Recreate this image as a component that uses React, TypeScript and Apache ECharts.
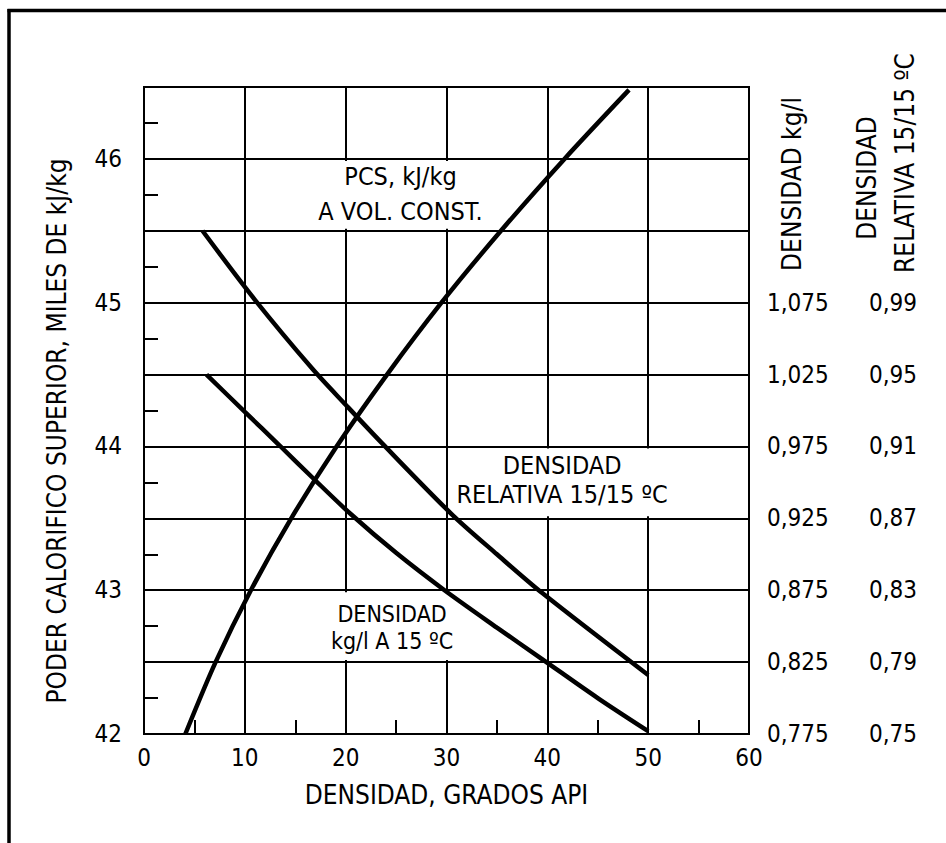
import React, { useEffect, useRef } from 'react';
import * as echarts from 'echarts';

// ---- Data ----
const apiTicks = [0, 10, 20, 30, 40, 50, 60];
const pcsTicks = [42, 43, 44, 45, 46];

// PCS, kJ/kg a vol. const. (x = grados API, y = miles de kJ/kg)
const pcsApi = [4.1, 7.1, 10.6, 14.6, 19.1, 24.1, 29.5, 35.4, 41.7, 48.1];
const pcsValue = [42.0, 42.5, 43.0, 43.5, 44.0, 44.5, 45.0, 45.5, 46.0, 46.48];

// Densidad relativa 15/15 ºC curve
const relApi = [5.8, 11.0, 16.7, 20.0, 23.5, 30.5, 35.0, 39.5, 50.0];
const relValue = [45.5, 45.02, 44.54, 44.29, 44.03, 43.53, 43.25, 42.98, 42.41];

// Densidad kg/l a 15 ºC curve
const kglApi = [6.2, 10.0, 13.4, 16.9, 20.5, 25.0, 29.8, 35.0, 39.3, 45.0, 50.0];
const kglValue = [44.5, 44.24, 44.01, 43.77, 43.53, 43.26, 43.0, 42.74, 42.53, 42.25, 42.02];

// Right-hand scales (positions on the left scale and their labels)
const rightTickValues = [42, 42.5, 43, 43.5, 44, 44.5, 45];
const densityLabels = ['0,775', '0,825', '0,875', '0,925', '0,975', '1,025', '1,075'];
const relativeLabels = ['0,75', '0,79', '0,83', '0,87', '0,91', '0,95', '0,99'];

// ---- Annotation placement (data coords) ----
const annotations = [
  { box: [17, 34, 45.5, 46], text: 'PCS, kJ/kg\nA VOL. CONST.', x: 25.44, y: 45.754, lh: 35, fs: 25 },
  { box: [30.6, 53.5, 43.5, 44], text: 'DENSIDAD\nRELATIVA 15/15 ºC', x: 41.46, y: 43.764, lh: 29, fs: 25 },
  { box: [17.5, 33.0, 42.5, 43], text: 'DENSIDAD\nkg/l A 15 ºC', x: 24.6, y: 42.741, lh: 27, fs: 23 },
];

const FONT = "'DejaVu Sans Condensed', 'DejaVu Sans', sans-serif";

function pick(labels: string[], v: number) {
  const i = rightTickValues.findIndex((t) => Math.abs(t - v) < 1e-6);
  return i >= 0 ? labels[i] : '';
}

export default function App() {
  const ref = useRef<HTMLDivElement>(null);

  useEffect(() => {
    document.body.style.margin = '0';
    const chart = echarts.init(ref.current!, null, { renderer: 'svg' });
    const ls = { color: '#000', width: 2 };
    const labelStyle = { color: '#000', fontSize: 24, fontFamily: FONT };
    const curve = (name: string, xs: number[], ys: number[]) => ({
      type: 'line',
      name,
      data: xs.map((x, i) => [x, ys[i]]),
      symbol: 'none',
      smooth: 0.3,
      z: 5,
      lineStyle: { color: '#000', width: 4.5 },
    });

    chart.setOption({
      animation: false,
      backgroundColor: '#fff',
      grid: {
        left: 144,
        top: 87,
        right: 197,
        bottom: 109,
        show: true,
        borderColor: '#000',
        borderWidth: 2,
      },
      xAxis: {
        type: 'value',
        min: apiTicks[0],
        max: apiTicks[apiTicks.length - 1],
        interval: 10,
        axisLine: { show: true, lineStyle: ls },
        axisTick: { show: true, inside: true, length: 14, lineStyle: ls },
        minorTick: { show: true, splitNumber: 2, length: 14, lineStyle: ls },
        splitLine: { show: true, lineStyle: ls },
        axisLabel: { ...labelStyle, margin: 12 },
        name: 'DENSIDAD, GRADOS API',
        nameLocation: 'middle',
        nameGap: 48,
        nameTextStyle: { ...labelStyle, fontSize: 26 },
      },
      yAxis: [
        {
          type: 'value',
          min: 42,
          max: 46.5,
          interval: 0.5,
          position: 'left',
          axisLine: { show: true, lineStyle: ls },
          axisTick: { show: true, inside: true, length: 14, lineStyle: ls },
          minorTick: { show: true, splitNumber: 2, length: 14, lineStyle: ls },
          splitLine: { show: true, lineStyle: ls },
          axisLabel: {
            ...labelStyle,
            margin: 22,
            formatter: (v: number) =>
              pcsTicks.some((t) => Math.abs(t - v) < 1e-6) ? String(v) : '',
          },
        },
        {
          type: 'value',
          min: 42,
          max: 46.5,
          interval: 0.5,
          position: 'right',
          offset: 0,
          axisLine: { show: false },
          axisTick: { show: false },
          splitLine: { show: false },
          axisLabel: { ...labelStyle, margin: 18, formatter: (v: number) => pick(densityLabels, v) },
        },
        {
          type: 'value',
          min: 42,
          max: 46.5,
          interval: 0.5,
          position: 'right',
          offset: 102,
          axisLine: { show: false },
          axisTick: { show: false },
          splitLine: { show: false },
          axisLabel: { ...labelStyle, margin: 18, formatter: (v: number) => pick(relativeLabels, v) },
        },
      ],
      series: [
        curve('PCS', pcsApi, pcsValue),
        curve('Densidad relativa', relApi, relValue),
        curve('Densidad kg/l', kglApi, kglValue),
      ],
    });

    const px = (p: number[]) => chart.convertToPixel({ gridIndex: 0 }, p) as number[];
    const elements: any[] = [];
    annotations.forEach((a) => {
      const [x0, x1, y0, y1] = a.box;
      const tl = px([x0, y1]);
      const br = px([x1, y0]);
      elements.push({
        type: 'rect',
        z: 1,
        shape: { x: tl[0], y: tl[1] + 2, width: br[0] - tl[0], height: br[1] - tl[1] - 4 },
        style: { fill: '#fff' },
        silent: true,
      });
      const p = px([a.x, a.y]);
      elements.push({
        type: 'text',
        z: 1,
        x: p[0],
        y: p[1],
        style: {
          text: a.text,
          fill: '#000',
          font: `${a.fs}px ${FONT}`,
          lineHeight: a.lh,
          align: 'center',
          verticalAlign: 'middle',
        },
      });
    });

    const rotText = (text: string, x: number, y: number, size = 26) => ({
      type: 'text',
      x,
      y,
      rotation: Math.PI / 2,
      style: {
        text,
        fill: '#000',
        font: `${size}px ${FONT}`,
        align: 'center',
        verticalAlign: 'middle',
      },
    });
    elements.push(rotText('PODER CALORIFICO SUPERIOR, MILES DE kJ/kg', 57, 431));
    elements.push(rotText('DENSIDAD kg/l', 792, 184));
    elements.push(rotText('DENSIDAD', 867, 178));
    elements.push(rotText('RELATIVA 15/15 ºC', 905, 163));

    // page frame
    elements.push({
      type: 'line',
      shape: { x1: 7.5, y1: 10.5, x2: 946, y2: 10.5 },
      style: { stroke: '#000', lineWidth: 3.5 },
    });
    elements.push({
      type: 'line',
      shape: { x1: 9, y1: 9, x2: 9, y2: 843 },
      style: { stroke: '#000', lineWidth: 3.5 },
    });

    chart.setOption({ graphic: { elements } });

    return () => chart.dispose();
  }, []);

  return <div ref={ref} style={{ width: 946, height: 843, overflow: 'hidden' }} />;
}
